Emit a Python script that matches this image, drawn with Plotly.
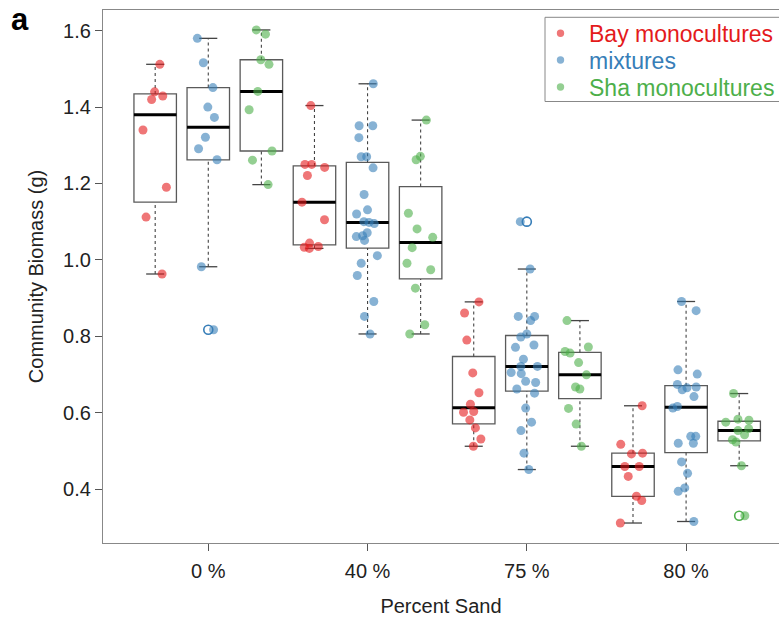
import numpy as np
import plotly.graph_objects as go

# ---------------- data ----------------
sand_levels = ["0 %", "40 %", "75 %", "80 %"]
series_names = ["Bay monocultures", "mixtures", "Sha monocultures"]

bay_0 = [1.512, 1.440, 1.429, 1.420, 1.340, 1.190, 1.112, 0.963]
mix_0 = [1.580, 1.516, 1.451, 1.400, 1.373, 1.321, 1.291, 1.262, 0.982, 0.817]
sha_0 = [1.602, 1.591, 1.524, 1.512, 1.441, 1.393, 1.285, 1.261, 1.197]

bay_40 = [1.404, 1.250, 1.250, 1.242, 1.221, 1.151, 1.105, 1.044, 1.035, 1.033, 1.030]
mix_40 = [1.461, 1.351, 1.351, 1.320, 1.270, 1.270, 1.241, 1.171, 1.131, 1.120, 1.100,
          1.098, 1.095, 1.071, 1.063, 1.061, 1.051, 1.011, 0.991, 0.959, 0.891, 0.852, 0.806]
sha_40 = [1.366, 1.271, 1.262, 1.122, 1.081, 1.059, 1.032, 0.991, 0.974, 0.926, 0.830, 0.806]

bay_75 = [0.890, 0.861, 0.790, 0.704, 0.652, 0.622, 0.603, 0.601, 0.581, 0.560, 0.531, 0.512]
mix_75 = [1.100, 0.976, 0.852, 0.852, 0.841, 0.806, 0.798, 0.777, 0.771, 0.740, 0.721, 0.721,
          0.705, 0.702, 0.682, 0.679, 0.662, 0.651, 0.612, 0.575, 0.553, 0.494, 0.451]
sha_75 = [0.841, 0.772, 0.760, 0.756, 0.731, 0.699, 0.667, 0.662, 0.611, 0.570, 0.512]

bay_80 = [0.618, 0.517, 0.494, 0.492, 0.459, 0.459, 0.433, 0.381, 0.370, 0.311]
mix_80 = [0.891, 0.867, 0.712, 0.701, 0.674, 0.667, 0.665, 0.660, 0.642, 0.616, 0.612, 0.538,
          0.538, 0.520, 0.520, 0.471, 0.441, 0.403, 0.394, 0.315]
sha_80 = [0.650, 0.583, 0.580, 0.575, 0.558, 0.553, 0.542, 0.529, 0.523, 0.461, 0.330]

y_ticks = [0.4, 0.6, 0.8, 1.0, 1.2, 1.4, 1.6]

# ---------------- styling ----------------
colors = ["#E41A1C", "#377EB8", "#4DAF4A"]
FONT = "Liberation Sans, Arial, Helvetica, sans-serif"
W, H = 779, 618
ML, MR, MT, MB = 103, 0, 10, 75

groups = [
    [bay_0, bay_40, bay_75, bay_80],
    [mix_0, mix_40, mix_75, mix_80],
    [sha_0, sha_40, sha_75, sha_80],
]


def fivenum(v):
    v = np.sort(np.asarray(v, dtype=float))
    n = len(v)
    n4 = np.floor((n + 3) / 2) / 2
    d = np.array([1, n4, (n + 1) / 2, n + 1 - n4, n]) - 1
    return 0.5 * (v[np.floor(d).astype(int)] + v[np.ceil(d).astype(int)])


def box_stats(v):
    v = np.asarray(v, dtype=float)
    _, q1, med, q3, _ = fivenum(v)
    iqr = q3 - q1
    inside = v[(v >= q1 - 1.5 * iqr) & (v <= q3 + 1.5 * iqr)]
    return q1, med, q3, inside.min(), inside.max()


def px_x(px):  # page pixel -> paper x
    return (px - ML) / (W - ML - MR)


def px_y(py):  # page pixel -> paper y
    return (H - MB - py) / (H - MT - MB)


BOXW = 0.8
STAPLE = 0.17
shapes = []
fig = go.Figure()

for s, (name, col) in enumerate(zip(series_names, colors)):
    xs, ys = [], []
    for g, vals in enumerate(groups[s]):
        pos = 3 * g + s + 1
        q1, med, q3, lo, hi = box_stats(vals)
        shapes.append(dict(type="rect", xref="x", yref="y", layer="below",
                           x0=pos - BOXW / 2, x1=pos + BOXW / 2, y0=q1, y1=q3,
                           line=dict(color="#5a5a5a", width=1.3), fillcolor="white"))
        for a, b in ((q3, hi), (lo, q1)):
            shapes.append(dict(type="line", xref="x", yref="y", layer="below",
                               x0=pos, x1=pos, y0=a, y1=b,
                               line=dict(color="#444", width=1.1, dash="3px,3px")))
        for yy in (lo, hi):
            shapes.append(dict(type="line", xref="x", yref="y", layer="below",
                               x0=pos - STAPLE, x1=pos + STAPLE, y0=yy, y1=yy,
                               line=dict(color="#444", width=1.3)))
        shapes.append(dict(type="line", xref="x", yref="y", layer="below",
                           x0=pos - BOXW / 2, x1=pos + BOXW / 2, y0=med, y1=med,
                           line=dict(color="black", width=3)))
        xs += [pos] * len(vals)
        ys += list(vals)

    # outlier rings (computed by plotly's box statistics)
    fig.add_trace(go.Box(
        x=xs, y=ys, boxpoints="outliers", jitter=0, pointpos=0, width=BOXW,
        quartilemethod="inclusive",
        line=dict(width=0, color="rgba(0,0,0,0)"), fillcolor="rgba(0,0,0,0)",
        marker=dict(symbol="circle-open", color=col, size=9, line=dict(width=1.6)),
        showlegend=False, hoverinfo="skip"))

for s, (name, col) in enumerate(zip(series_names, colors)):
    xs, ys = [], []
    for g, vals in enumerate(groups[s]):
        pos = 3 * g + s + 1
        xs += [pos] * len(vals)
        ys += list(vals)
    # jittered raw points
    fig.add_trace(go.Box(
        x=xs, y=ys, boxpoints="all", jitter=0.75, pointpos=0, width=BOXW,
        quartilemethod="inclusive",
        line=dict(width=0, color="rgba(0,0,0,0)"), fillcolor="rgba(0,0,0,0)",
        marker=dict(color=col, size=9, opacity=0.6),
        showlegend=False, hoverinfo="skip"))

# ---------------- legend (drawn as shapes + text) ----------------
annotations = []
shapes.append(dict(type="rect", xref="paper", yref="paper", layer="above",
                   x0=px_x(545), x1=px_x(800), y0=px_y(101.5), y1=px_y(17.3),
                   line=dict(color="#888", width=1), fillcolor="white"))
legend_rows = [33.3, 60.0, 87.0]
for name, col, ry in zip(series_names, colors, legend_rows):
    shapes.append(dict(type="circle", xref="paper", yref="paper", layer="above",
                       xsizemode="pixel", ysizemode="pixel",
                       xanchor=px_x(560.5), yanchor=px_y(ry),
                       x0=-3.7, x1=3.7, y0=-3.7, y1=3.7,
                       line=dict(width=0), fillcolor=col, opacity=0.6))
    annotations.append(dict(text=name, xref="paper", yref="paper",
                            x=px_x(587), y=px_y(ry + 1), xanchor="left", yanchor="middle",
                            showarrow=False, font=dict(size=23, family=FONT, color=col)))

annotations.append(dict(text="<b>a</b>", xref="paper", yref="paper",
                        x=px_x(10), y=px_y(0.5), xanchor="left", yanchor="top",
                        borderpad=0, showarrow=False,
                        font=dict(size=31, family=FONT, color="black")))

fig.update_layout(
    width=W, height=H,
    margin=dict(l=ML, r=MR, t=MT, b=MB),
    plot_bgcolor="white", paper_bgcolor="white",
    font=dict(family=FONT, color="#222", size=20),
    boxmode="overlay",
    showlegend=False,
    shapes=shapes,
    annotations=annotations,
)

fig.update_xaxes(
    range=[0.017, 12.75], tickmode="array", tickvals=[2, 5, 8, 11], ticktext=sand_levels,
    ticks="outside", ticklen=7, tickcolor="#555", tickwidth=1,
    showline=True, linecolor="#888", linewidth=1.2, mirror=True,
    showgrid=False, zeroline=False,
    tickfont=dict(size=20), ticklabelstandoff=3,
    title=dict(text="Percent Sand", font=dict(size=20), standoff=17),
)
fig.update_yaxes(
    range=[0.2587, 1.6542], tickmode="array", tickvals=y_ticks,
    ticktext=[f"{v:.1f}" for v in y_ticks],
    ticks="outside", ticklen=7, tickcolor="#555", tickwidth=1,
    showline=True, linecolor="#888", linewidth=1.2, mirror=False,
    showgrid=False, zeroline=False,
    tickfont=dict(size=20),
    title=dict(text="Community Biomass (g)", font=dict(size=20), standoff=14),
)

fig.write_html("out.html", config={"displayModeBar": False},
               post_script="document.body.style.margin='0px';")
